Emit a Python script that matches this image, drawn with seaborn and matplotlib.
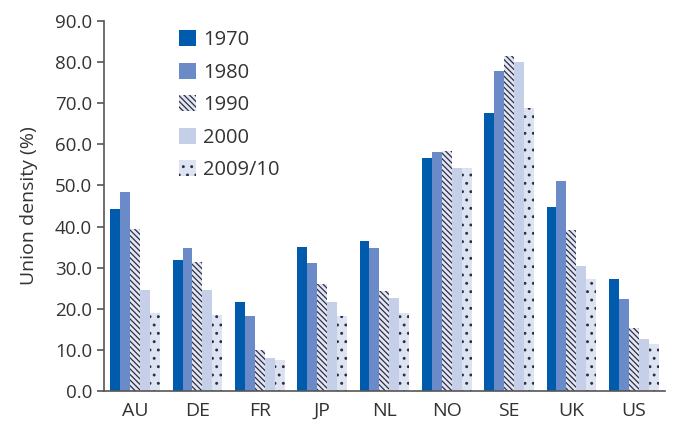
import matplotlib
matplotlib.use("Agg")
import matplotlib.pyplot as plt
import seaborn as sns
import pandas as pd
import numpy as np

# union density by country and year
countries = ["AU", "DE", "FR", "JP", "NL", "NO", "SE", "UK", "US"]
years = ["1970", "1980", "1990", "2000", "2009/10"]
d1970 = [44.3, 31.9, 21.7, 35.0, 36.5, 56.7, 67.6, 44.8, 27.3]
d1980 = [48.4, 34.8, 18.2, 31.1, 34.8, 58.2, 77.9, 51.1, 22.4]
d1990 = [39.4, 31.4, 10.0, 26.0, 24.3, 58.4, 81.5, 39.2, 15.3]
d2000 = [24.6, 24.6, 8.0, 21.7, 22.6, 54.3, 80.0, 30.4, 12.7]
d2009 = [19.0, 18.5, 7.5, 18.2, 19.0, 54.3, 68.9, 27.3, 11.4]

df = pd.DataFrame({
    "country": countries * 5,
    "year": np.repeat(years, len(countries)),
    "density": d1970 + d1980 + d1990 + d2000 + d2009,
})

sns.set_style("white")
plt.rcParams["font.family"] = ["Open Sans", "DejaVu Sans"]
plt.rcParams["hatch.linewidth"] = 0.9

colors = ["#005bac", "#6b8bc8", "#e4e7f1", "#c5cfe8", "#dde3f1"]
hatches = ["", "", "\\\\\\\\\\\\", "", ".."]
hatch_col = "#2a2f48"

fig = plt.figure(figsize=(6.73, 4.28), dpi=100)
ax = fig.add_axes([0.1545, 0.0864, 0.8335, 0.8646])
sns.barplot(data=df, x="country", y="density", hue="year", palette=colors,
            saturation=1, width=0.8, ax=ax, legend=False)

for cont, h in zip(ax.containers, hatches):
    for p in cont.patches:
        p.set_linewidth(0)
        if h:
            p.set_hatch(h)
            p.set_edgecolor(hatch_col)

ax.set_ylim(0, 90)
ax.set_xlim(-0.5, 8.5)
ax.set_yticks(np.arange(0, 91, 10))
ax.set_yticklabels([f"{v:.1f}" for v in np.arange(0, 91, 10)])
ax.set_xticks(np.arange(-0.5, 9, 1), minor=True)
ax.tick_params(axis="x", which="major", length=0, labelsize=14, colors="#333333", pad=8)
ax.tick_params(axis="x", which="minor", length=6, width=1.2, color="#555555", direction="out")
ax.tick_params(axis="y", length=5, width=1.2, color="#555555", labelsize=13.5,
               labelcolor="#333333", left=True, direction="out")
ax.set_xlabel("")
ax.set_ylabel("Union density (%)", fontsize=14, color="#333333", labelpad=12)
sns.despine(ax=ax)
for s in ["left", "bottom"]:
    ax.spines[s].set_color("#555555")
    ax.spines[s].set_linewidth(1.2)

ax.legend(ax.containers, years, loc="upper left", bbox_to_anchor=(0.133, 0.975),
          frameon=False, fontsize=14.5, handlelength=0.85, handleheight=0.85,
          handletextpad=0.35, labelspacing=0.62, borderaxespad=0, borderpad=0,
          labelcolor="#333333")

fig.savefig("out.png", dpi=100)
